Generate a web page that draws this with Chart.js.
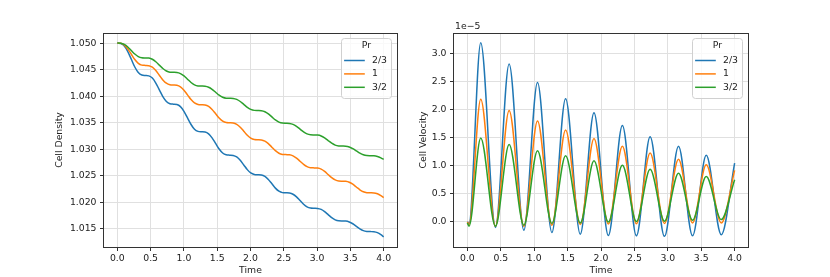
<!DOCTYPE html>
<html>
<head>
<meta charset="utf-8">
<script src="https://cdn.jsdelivr.net/npm/chart.js@4.4.0/dist/chart.umd.min.js"></script>
<style>
  body { margin: 0; background: #fff; }
  .wrap { position: relative; width: 830px; height: 277px; }
  canvas { position: absolute; top: 0; }
  #densityChart { left: 0; }
  #velocityChart { left: 415px; }
</style>
</head>
<body>
<div class="wrap">
  <canvas id="densityChart" width="415" height="277"></canvas>
  <canvas id="velocityChart" width="415" height="277"></canvas>
</div>
<script>
// --- data ---
const prLabels = ['2/3', '1', '3/2'];
const prColors = ['#1f77b4', '#ff7f0e', '#2ca02c'];

const timeTicks = [0, 0.5, 1, 1.5, 2, 2.5, 3, 3.5, 4];
const densityTicks = [1.015, 1.02, 1.025, 1.03, 1.035, 1.04, 1.045, 1.05];
const velocityTicks = [0, 0.5, 1, 1.5, 2, 2.5, 3];

const densTime = [
  0, 0.0525, 0.105, 0.1575, 0.21, 0.2625, 0.315, 0.3675,
  0.42, 0.473, 0.526, 0.578, 0.631, 0.684, 0.737, 0.79,
  0.8425, 0.895, 0.948, 1.001, 1.054, 1.107, 1.159, 1.212,
  1.265, 1.318, 1.371, 1.423, 1.476, 1.529, 1.582, 1.635,
  1.6875, 1.74, 1.793, 1.846, 1.899, 1.952, 2.004, 2.057,
  2.11, 2.163, 2.216, 2.268, 2.321, 2.374, 2.427, 2.48,
  2.5325, 2.585, 2.638, 2.691, 2.744, 2.797, 2.849, 2.902,
  2.955, 3.008, 3.061, 3.113, 3.166, 3.219, 3.272, 3.325,
  3.3775, 3.43, 3.483, 3.536, 3.589, 3.642, 3.694, 3.747,
  3.8, 3.853, 3.906, 3.958, 4.0,
];

const densBlue = [
  1.05, 1.04992, 1.04944, 1.0484, 1.04695, 1.0455, 1.04446, 1.04398,
  1.0439, 1.04383, 1.04341, 1.04248, 1.0412, 1.03992, 1.03899, 1.03857,
  1.0385, 1.03844, 1.03803, 1.03714, 1.0359, 1.03467, 1.03377, 1.03337,
  1.0333, 1.03325, 1.0329, 1.03215, 1.0311, 1.03006, 1.0293, 1.02896,
  1.0289, 1.02885, 1.02856, 1.02793, 1.02705, 1.02617, 1.02554, 1.02525,
  1.0252, 1.02516, 1.02489, 1.02431, 1.0235, 1.02269, 1.02211, 1.02184,
  1.0218, 1.02176, 1.02154, 1.02104, 1.02035, 1.01966, 1.01916, 1.01894,
  1.0189, 1.01887, 1.01868, 1.01827, 1.0177, 1.01713, 1.01672, 1.01653,
  1.0165, 1.01648, 1.01632, 1.01598, 1.0155, 1.01503, 1.01468, 1.01453,
  1.0145, 1.01447, 1.0143, 1.01392, 1.0135,
];

const densOrange = [
  1.05, 1.04995, 1.04962, 1.0489, 1.0479, 1.0469, 1.04618, 1.04585,
  1.0458, 1.04575, 1.04546, 1.04483, 1.04395, 1.04307, 1.04244, 1.04215,
  1.0421, 1.04205, 1.04176, 1.04113, 1.04025, 1.03937, 1.03874, 1.03845,
  1.0384, 1.03836, 1.03809, 1.03751, 1.0367, 1.03589, 1.03531, 1.03504,
  1.035, 1.03496, 1.03471, 1.03416, 1.0334, 1.03264, 1.03209, 1.03184,
  1.0318, 1.03177, 1.03155, 1.03107, 1.0304, 1.02974, 1.02926, 1.02904,
  1.029, 1.02897, 1.02877, 1.02834, 1.02775, 1.02716, 1.02673, 1.02653,
  1.0265, 1.02647, 1.02627, 1.02584, 1.02525, 1.02466, 1.02423, 1.02403,
  1.024, 1.02397, 1.0238, 1.02342, 1.0229, 1.02238, 1.022, 1.02183,
  1.0218, 1.02178, 1.02162, 1.02127, 1.0209,
];

const densGreen = [
  1.05, 1.04997, 1.04975, 1.04927, 1.0486, 1.04794, 1.04746, 1.04724,
  1.0472, 1.04717, 1.04695, 1.04649, 1.04585, 1.04521, 1.04475, 1.04453,
  1.0445, 1.04447, 1.04426, 1.04382, 1.0432, 1.04258, 1.04214, 1.04193,
  1.0419, 1.04187, 1.04169, 1.0413, 1.04075, 1.0402, 1.03981, 1.03963,
  1.0396, 1.03957, 1.03939, 1.039, 1.03845, 1.0379, 1.03751, 1.03733,
  1.0373, 1.03727, 1.03708, 1.03667, 1.0361, 1.03553, 1.03512, 1.03493,
  1.0349, 1.03487, 1.0347, 1.03432, 1.0338, 1.03328, 1.0329, 1.03273,
  1.0327, 1.03267, 1.03251, 1.03215, 1.03165, 1.03115, 1.03079, 1.03063,
  1.0306, 1.03058, 1.03044, 1.03013, 1.0297, 1.02927, 1.02896, 1.02882,
  1.0288, 1.02878, 1.02865, 1.02838, 1.0281,
];

// velocity: start, peaks and troughs (units of 1e-5)
const velTime = [0, 0.025, 0.2, 0.42, 0.625, 0.845, 1.05, 1.265, 1.47, 1.69, 1.895,
  2.11, 2.32, 2.53, 2.735, 2.95, 3.16, 3.37, 3.575, 3.8, 4.0];
const velBlue = [0, -0.03, 3.2, -0.1, 2.82, -0.15, 2.49, -0.19, 2.2, -0.22, 1.95,
  -0.245, 1.72, -0.25, 1.52, -0.26, 1.35, -0.25, 1.19, -0.23, 1.05];
const velOrange = [0, -0.05, 2.19, -0.08, 1.99, -0.08, 1.8, -0.06, 1.64, -0.05, 1.49,
  -0.04, 1.35, -0.035, 1.23, -0.03, 1.12, -0.02, 1.02, -0.02, 0.92];
const velGreen = [-0.02, -0.08, 1.5, -0.08, 1.38, -0.06, 1.27, -0.03, 1.18, -0.02, 1.09,
  -0.005, 1.01, 0.005, 0.94, 0.01, 0.87, 0.03, 0.81, 0.04, 0.75];

// --- style ---
const FONT = 'DejaVu Sans';
const FONT_SIZE = 9.3;
const gridColor = '#e0e0e0';
const axisColor = '#333';

Chart.defaults.font.family = FONT;
Chart.defaults.font.size = FONT_SIZE;
Chart.defaults.color = '#222';

// matplotlib-like frame around the plot area
const framePlugin = {
  id: 'frame',
  afterDatasetsDraw(chart) {
    const { ctx, chartArea: a } = chart;
    ctx.save();
    ctx.strokeStyle = axisColor;
    ctx.lineWidth = 1;
    const l = Math.round(a.left) - 0.5;
    const t = Math.round(a.top) + 0.5;
    const r = Math.round(a.right) + 0.5;
    const b = Math.round(a.bottom) + 0.5;
    ctx.strokeRect(l, t, r - l, b - t);
    ctx.restore();
  },
};

// legend box in the upper right corner, with title and offset text
const prLegend = {
  id: 'prLegend',
  afterDraw(chart, args, opts) {
    const { ctx, chartArea: a } = chart;
    const w = 50;
    const h = 60;
    const x = a.right - 5.5 - w;
    const y = a.top + 5.5;
    ctx.save();
    ctx.beginPath();
    ctx.roundRect(x, y, w, h, 3);
    ctx.fillStyle = 'rgba(255,255,255,0.8)';
    ctx.fill();
    ctx.strokeStyle = '#d0d0d0';
    ctx.lineWidth = 1;
    ctx.stroke();

    ctx.font = FONT_SIZE + 'px "' + FONT + '"';
    ctx.fillStyle = '#222';
    ctx.textBaseline = 'middle';
    ctx.textAlign = 'center';
    ctx.fillText(opts.title, x + w / 2, y + 7.5);

    chart.data.datasets.forEach((ds, i) => {
      const ry = y + 22 + i * 13.4;
      ctx.beginPath();
      ctx.strokeStyle = ds.borderColor;
      ctx.lineWidth = 1.5;
      ctx.moveTo(x + 2.6, ry);
      ctx.lineTo(x + 23.3, ry);
      ctx.stroke();
      ctx.textAlign = 'left';
      ctx.fillText(ds.label, x + 30.5, ry);
    });

    if (opts.offsetText) {
      ctx.textAlign = 'left';
      ctx.fillText(opts.offsetText, a.left + 1, a.top - 6);
    }
    ctx.restore();
  },
};

function makeDatasets(time, series) {
  return series.map((vals, i) => ({
    label: prLabels[i],
    data: vals.map((v, j) => ({ x: time[j], y: v })),
    borderColor: prColors[i],
    backgroundColor: prColors[i],
    borderWidth: 1.5,
    pointRadius: 0,
    fill: false,
    cubicInterpolationMode: 'monotone',
    order: series.length - i,
  }));
}

function makeScales(cfg) {
  return {
    x: {
      type: 'linear',
      min: -0.2,
      max: 4.2,
      afterBuildTicks: s => {
        s.ticks = timeTicks.map(v => ({ value: v }));
      },
      afterFit: s => {
        s.height = 30;
      },
      grid: { color: gridColor, tickColor: axisColor, tickLength: 4 },
      border: { display: false },
      ticks: { padding: 2, maxRotation: 0, autoSkip: false, callback: v => v.toFixed(1) },
      title: { display: true, text: 'Time', padding: { top: 0, bottom: 1 } },
    },
    y: {
      type: 'linear',
      min: cfg.min,
      max: cfg.max,
      afterBuildTicks: s => {
        s.ticks = cfg.ticks.map(v => ({ value: v }));
      },
      afterFit: s => {
        s.width = cfg.width;
      },
      grid: { color: gridColor, tickColor: axisColor, tickLength: 4 },
      border: { display: false },
      ticks: { padding: 3.5, autoSkip: false, callback: v => v.toFixed(cfg.digits) },
      title: { display: true, text: cfg.title, padding: { top: cfg.titlePad, bottom: 0 } },
    },
  };
}

const densityChart = new Chart(document.getElementById('densityChart'), {
  type: 'line',
  data: { datasets: makeDatasets(densTime, [densBlue, densOrange, densGreen]) },
  options: {
    responsive: false,
    animation: false,
    layout: { padding: { left: 0, top: 33, right: 18, bottom: 0 } },
    plugins: {
      legend: { display: false },
      tooltip: { enabled: false },
      prLegend: { title: 'Pr' },
    },
    scales: makeScales({
      min: 1.0116,
      max: 1.0519,
      ticks: densityTicks,
      digits: 3,
      width: 104,
      title: 'Cell Density',
      titlePad: 54,
    }),
  },
  plugins: [framePlugin, prLegend],
});

const velocityChart = new Chart(document.getElementById('velocityChart'), {
  type: 'line',
  data: { datasets: makeDatasets(velTime, [velBlue, velOrange, velGreen]) },
  options: {
    responsive: false,
    animation: false,
    layout: { padding: { left: 0, top: 33, right: 82, bottom: 0 } },
    plugins: {
      legend: { display: false },
      tooltip: { enabled: false },
      prLegend: { title: 'Pr', offsetText: '1e\u22125' },
    },
    scales: makeScales({
      min: -0.45,
      max: 3.375,
      ticks: velocityTicks,
      digits: 1,
      width: 39,
      title: 'Cell Velocity',
      titlePad: 2.7,
    }),
  },
  plugins: [framePlugin, prLegend],
});
</script>
</body>
</html>
